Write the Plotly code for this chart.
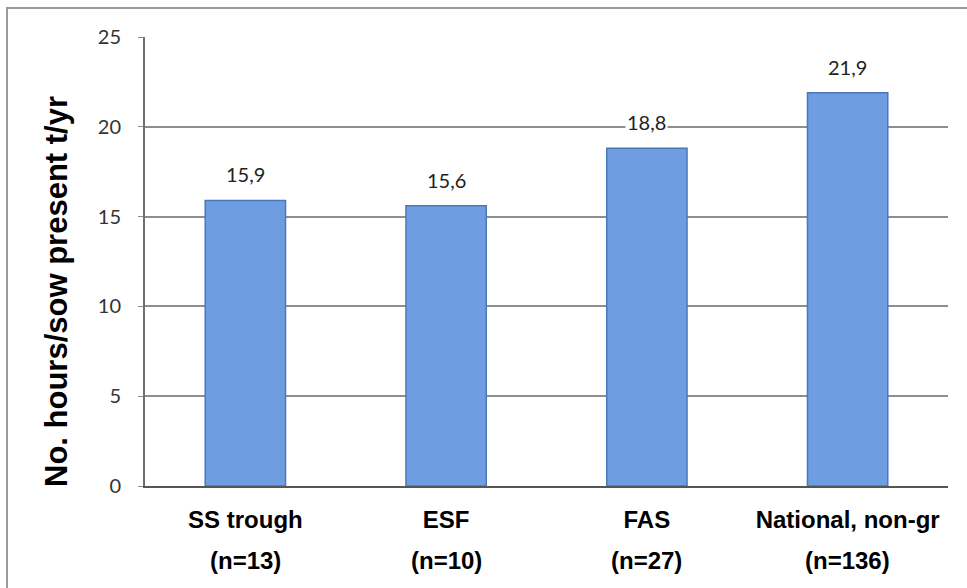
import plotly.graph_objects as go

categories = ["SS trough", "ESF", "FAS", "National, non-gr"]
n_labels = ["(n=13)", "(n=10)", "(n=27)", "(n=136)"]
values = [15.9, 15.6, 18.8, 21.9]
value_labels = ["15,9", "15,6", "18,8", "21,9"]
y_ticks = [0, 5, 10, 15, 20, 25]
y_title = "No. hours/sow present t/yr"

W, H = 967, 588
ml, mr, mt, mb = 145, 19, 37, 102
pw, ph = W - ml - mr, H - mt - mb


def px_x(x):
    return (x - ml) / pw


def px_y(y):
    return 1 - (y - mt) / ph


fig = go.Figure()
fig.add_trace(go.Bar(
    x=categories, y=values, width=0.4,
    marker=dict(color="#6e9de2", line=dict(color="#4a78b8", width=1.5)),
    hoverinfo="skip",
))

for c, v, t in zip(categories, values, value_labels):
    fig.add_annotation(x=c, y=v, text=t, showarrow=False, yshift=26,
                       font=dict(family="Lato, Open Sans, sans-serif", size=20, color="#222"),
                       bgcolor="white")

label_font = dict(family="Liberation Sans, Arial, sans-serif", size=24, color="black", weight="bold")
for c, n in zip(categories, n_labels):
    fig.add_annotation(x=c, xref="x", y=px_y(560), yref="paper", yanchor="middle",
                       text=n, showarrow=False, font=label_font)

fig.add_annotation(x=px_x(56), y=px_y(292), xref="paper", yref="paper",
                   text=y_title, textangle=-90, showarrow=False,
                   xanchor="center", yanchor="middle",
                   font=dict(family="Liberation Sans, Arial, sans-serif", size=31, color="black", weight="bold"))

fig.add_shape(type="rect", xref="paper", yref="paper",
              x0=px_x(7), x1=px_x(975), y0=px_y(595), y1=px_y(8),
              line=dict(color="#9a9a9a", width=2), layer="below")

fig.update_layout(
    width=W, height=H,
    margin=dict(l=ml, r=mr, t=mt, b=mb),
    plot_bgcolor="white", paper_bgcolor="white",
    showlegend=False, bargap=0.6,
    yaxis=dict(range=[0, 25], tickvals=y_ticks, showgrid=True,
               gridcolor="#8e8e8e", gridwidth=1.5,
               showline=True, linecolor="#6e6e6e", linewidth=2,
               ticks="outside", ticklen=5, tickcolor="#8e8e8e",
               tickfont=dict(family="Lato, Open Sans, sans-serif", size=20, color="#333"),
               ticklabelstandoff=13, zeroline=False),
    xaxis=dict(showline=True, linecolor="#555", linewidth=2, ticks="",
               ticklabelstandoff=11, tickfont=label_font),
)

fig.write_html("out.html", config={"displayModeBar": False},
               post_script="document.body.style.margin='0';")
